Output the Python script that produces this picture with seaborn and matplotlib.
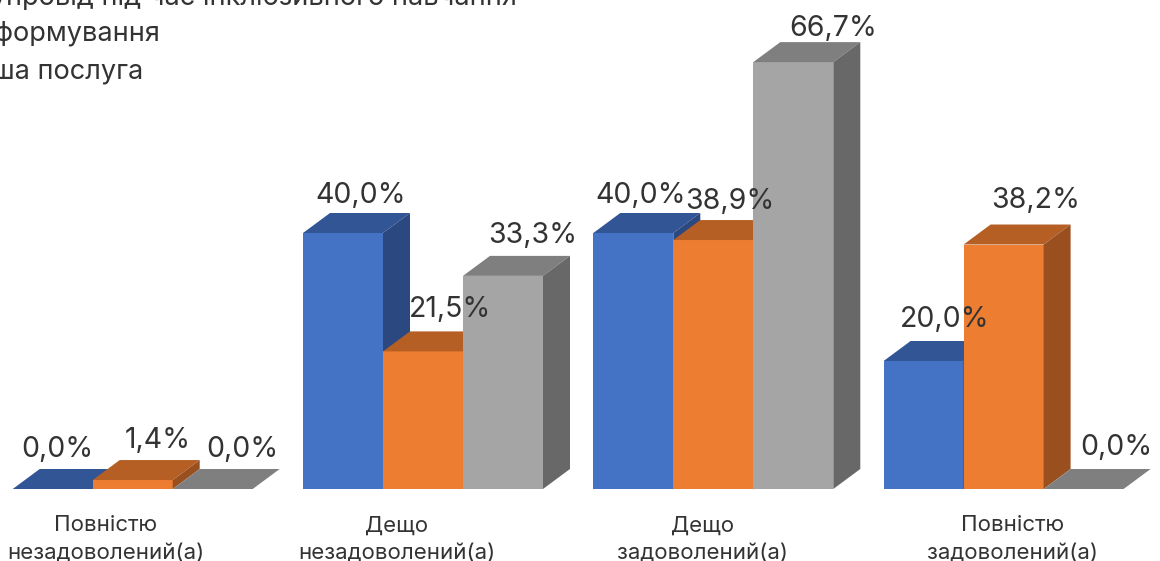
import pandas as pd
import seaborn as sns
import matplotlib.pyplot as plt
from matplotlib.patches import Polygon

# Data
categories = ['Повністю\nнезадоволений(а)', 'Дещо\nнезадоволений(а)', 'Дещо\nзадоволений(а)', 'Повністю\nзадоволений(а)']
series_names = ['Супровід під час інклюзивного навчання', 'Інформування', 'Інша послуга']
support = [0.0, 40.0, 40.0, 20.0]
info = [1.4, 21.5, 38.9, 38.2]
other = [0.0, 33.3, 66.7, 0.0]

df = pd.DataFrame({'category': categories, series_names[0]: support, series_names[1]: info, series_names[2]: other})
df = df.melt(id_vars='category', var_name='series', value_name='value')

front_colors = ['#4472C4', '#ED7D31', '#A5A5A5']
top_colors = ['#325596', '#B55F24', '#7F7F7F']
side_colors = ['#2B4880', '#9A4F1E', '#686868']
text_color = '#333333'

sns.set_theme(style='white', font='Inter')
fig = plt.figure(figsize=(11.6, 5.61), dpi=100)
ax = fig.add_axes([0, 0, 1, 1])
sns.barplot(ax=ax, data=df, x='category', y='value', hue='series', order=categories, hue_order=series_names,
            palette=front_colors, width=0.8267, gap=0, saturation=1, legend=False, linewidth=0)

# pixel scale of the reference: 290.3 px per group, 6.4 px per percent
ax.set_xlim(-132.7 / 290.3, 1027.3 / 290.3)
ax.set_ylim(-72 / 6.4, 489 / 6.4)
ax.axis('off')

# fake 3D depth
dx = 27 / 290.3
dy = 20 / 6.4

# label offsets in pixels from the front bar centre / back top edge
label_dx = [[5, 18, 7, 21], [25, 27, 17, 32], [30, 30, 40, 33]]
label_dy = [[20, 18, 18, 22], [20, 22, 19, 24], [19, 20, 14, 22]]

for s in range(3):
    for c in range(4):
        bar = ax.containers[s][c]
        x0 = bar.get_x()
        x1 = x0 + bar.get_width()
        h = bar.get_height()
        z = 2 + c * 10 + s * 2
        bar.set_zorder(z)
        top = Polygon([(x0, h), (x1, h), (x1 + dx, h + dy), (x0 + dx, h + dy)], closed=True,
                      facecolor=top_colors[s], edgecolor='none', zorder=z + 0.5)
        ax.add_patch(top)
        if h > 0:
            side = Polygon([(x1, 0), (x1 + dx, dy), (x1 + dx, h + dy), (x1, h)], closed=True,
                           facecolor=side_colors[s], edgecolor='none', zorder=z + 0.5)
            ax.add_patch(side)
        ax.annotate(f'{h:.1f}%'.replace('.', ','), xy=((x0 + x1) / 2, h + dy),
                    xytext=(label_dx[s][c], label_dy[s][c]), textcoords='offset pixels',
                    ha='center', va='center', fontsize=20.5, color=text_color, zorder=100)

# category labels
cat_dx = [-27, -26, -11, 9]
for c, name in enumerate(categories):
    ax.annotate(name, xy=(c, 0), xytext=(cat_dx[c], -50), textcoords='offset pixels',
                ha='center', va='center', fontsize=16, color=text_color, linespacing=1.45)

# legend runs off the top left corner of the picture
legend_x = [517, 160, 143]
legend_y = [-3, 34, 71]
for name, lx, ly in zip(series_names, legend_x, legend_y):
    fig.text(lx / 1160, 1 - ly / 561, name, ha='right', va='center', fontsize=19.5, color=text_color)

plt.savefig('out.png', dpi=100)
